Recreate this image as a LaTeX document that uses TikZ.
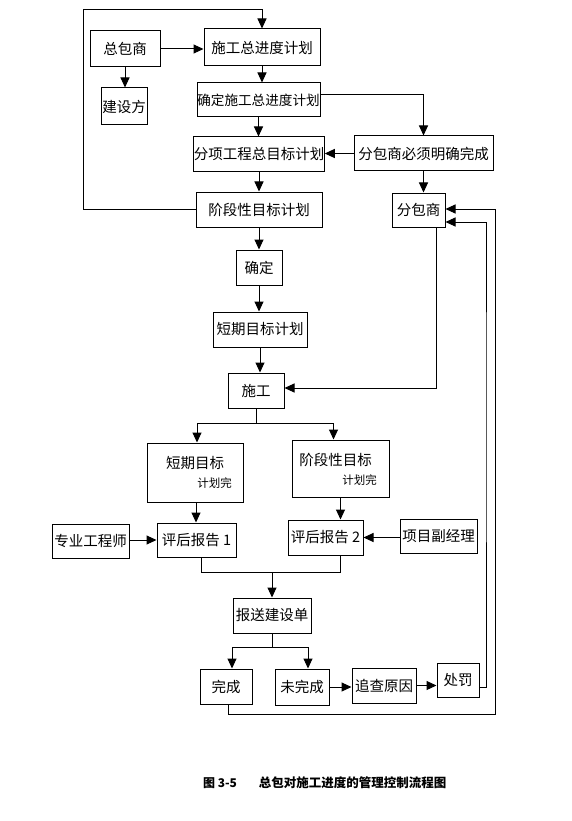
\documentclass[tikz,border=0pt]{standalone}
\usepackage{fontspec}
\newfontfamily\cjk{Noto Sans CJK SC}
\usetikzlibrary{arrows.meta}
\begin{document}
\begin{tikzpicture}[x=1pt,y=-1pt,>={Triangle[length=10pt,width=9pt]},line width=1pt]
	\tikzset{box/.style={draw,inner sep=0pt,font=\cjk\fontsize{14.5}{16}\selectfont},
		small/.style={font=\cjk\fontsize{11.5}{13}\selectfont}}
	\useasboundingbox (0,0) rectangle (572,821);
	% boxes
	\node[box,minimum width=70,minimum height=36] (zbs) at (125,49) {总包商};
	\node[box,minimum width=116,minimum height=37] (sgzjd) at (262,47.5) {施工总进度计划};
	\node[box,minimum width=46,minimum height=37] (jsf) at (124,106.5) {建设方};
	\node[box,minimum width=123,minimum height=34,font=\cjk\fontsize{13.6}{15}\selectfont] (qdzjd) at (258.5,100) {确定施工总进度计划};
	\node[box,minimum width=126,minimum height=35] (fxgc) at (259,154.5) {分项工程总目标计划};
	\node[box,minimum width=139,minimum height=35] (fbsbx) at (423.5,153.5) {分包商必须明确完成};
	\node[box,minimum width=126,minimum height=35] (jdx) at (259,209.5) {阶段性目标计划};
	\node[box,minimum width=53,minimum height=34] (fbs) at (418.5,210) {分包商};
	\node[box,minimum width=46,minimum height=35] (qd) at (259,267.5) {确定};
	\node[box,minimum width=94,minimum height=35] (dqjh) at (260,329.5) {短期目标计划};
	\node[box,minimum width=56,minimum height=35] (sg) at (256,390.5) {施工};
	\node[box,minimum width=96,minimum height=59] (dqwc) at (195,472.5) {};
	\node[box,minimum width=97,minimum height=57] (jdwc) at (340.5,468.5) {};
	\node[box,draw=none] at (195,463) {短期目标};
	\node[small] at (214.5,483) {计划完};
	\node[box,draw=none] at (335.5,460) {阶段性目标};
	\node[small] at (359.5,480) {计划完};
	\node[box,minimum width=79,minimum height=34] (pg1) at (196.5,540) {评后报告 1};
	\node[box,minimum width=77,minimum height=34] (zygcs) at (90.5,541) {专业工程师};
	\node[box,minimum width=75,minimum height=35] (pg2) at (325.5,537.5) {评后报告 2};
	\node[box,minimum width=77,minimum height=34] (xmfjl) at (438.5,536) {项目副经理};
	\node[box,minimum width=78,minimum height=35] (bsjsd) at (272,615.5) {报送建设单};
	\node[box,minimum width=52,minimum height=35] (wc) at (226,686.5) {完成};
	\node[box,minimum width=54,minimum height=36] (wwc) at (302,687) {未完成};
	\node[box,minimum width=64,minimum height=35] (zcyy) at (384,685.5) {追查原因};
	\node[box,minimum width=42,minimum height=34] (cf) at (458,680) {处罚};
	\path
	(83,10)coordinate(lp)
	(436,388)coordinate(fb)
	(256,423)coordinate(s1)
	(201,572)coordinate(j1)
	(340,572)coordinate(j2)
	(232,647)coordinate(k1)
	(308,647)coordinate(k2)
	(486,400)coordinate(r1)
	(495,714)coordinate(r2)
	;
	% connectors
	\draw[->] (jdx.west) -| (lp) -| (sgzjd.north);
	\draw[->] (zbs.east) -- (zbs.east -| sgzjd.west);
	\draw[->] (zbs.south) -- (zbs.south |- jsf.north);
	\draw[->] (sgzjd.south) -- (sgzjd.south |- qdzjd.north);
	\draw[->] (qdzjd.south) -- (qdzjd.south |- fxgc.north);
	\draw[->] ([yshift=5]qdzjd.east) -| (fbsbx.north);
	\draw[->] (fbsbx.west) -- (fbsbx.west -| fxgc.east);
	\draw[->] (fxgc.south) -- (jdx.north);
	\draw[->] (fbsbx.south) -- (fbsbx.south |- fbs.north);
	\draw[->] (jdx.south) -- (qd.north);
	\draw[->] (qd.south) -- (qd.south |- dqjh.north);
	\draw[->] (dqjh.south) -- (dqjh.south |- sg.north);
	\draw[->] (fbs.south -| fb) -- (fb) -- (fb -| sg.east);
	\draw (sg.south) -- (s1);
	\draw[->] (s1) -| ([xshift=2]dqwc.north);
	\draw[->] (s1) -| ([xshift=-7]jdwc.north);
	\draw[->] ([xshift=1]dqwc.south) -- ([xshift=1]dqwc.south |- pg1.north);
	\draw[->] (zygcs.east |- pg1.west) -- (pg1.west);
	\draw[->] (jdwc.south) -- (jdwc.south |- pg2.north);
	\draw[->] (xmfjl.west |- pg2.east) -- (pg2.east);
	\draw (j1 |- pg1.south) -- (j1) -- (j2) -- (j2 |- pg2.south);
	\draw[->] (bsjsd.north |- j1) -- (bsjsd.north);
	\draw (bsjsd.south) -- (bsjsd.south |- k1);
	\draw (k1) -- (k2);
	\draw[->] (k1) -- (k1 |- wc.north);
	\draw[->] (k2) -- (k2 |- wwc.north);
	\draw[->] (wwc.east) -- (wwc.east -| zcyy.west);
	\draw[->] (zcyy.east) -- (zcyy.east -| cf.west);
	\draw[->] ([yshift=-7]cf.east) -| (r1) |- ([yshift=-12]fbs.east);
	\draw[->] ([xshift=2]wc.south) |- (r2) |- ([yshift=1]fbs.east);
	% caption
	\node[font=\cjk\bfseries\fontsize{12}{13}\selectfont] (fig) at (220,783) {图 3-5};
	\node[font=\cjk\bfseries\fontsize{12.5}{14}\selectfont] (cap) at (352.5,783) {总包对施工进度的管理控制流程图};
\end{tikzpicture}
\end{document}
